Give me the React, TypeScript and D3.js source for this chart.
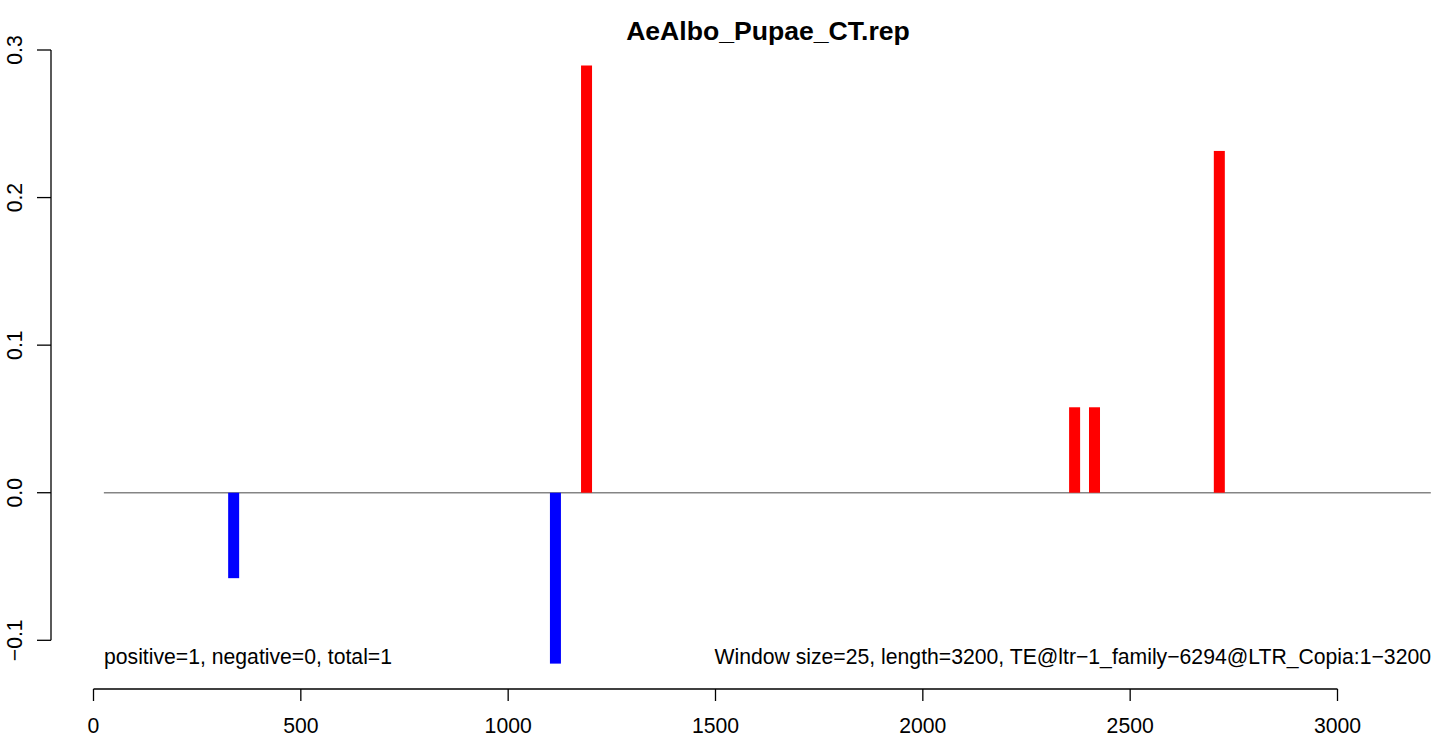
import React from "react";
import * as d3 from "d3";

const positions = [338, 1114, 1189, 2366, 2414, 2715];
const values = [-0.0579, -0.1158, 0.2895, 0.0579, 0.0579, 0.2316];
const xTicks = [0, 500, 1000, 1500, 2000, 2500, 3000];
const yTicks = [-0.1, 0, 0.1, 0.2, 0.3];
const zeroLineRange = [25, 3225];
const title = "AeAlbo_Pupae_CT.rep";
const leftNote = "positive=1, negative=0, total=1";
const rightNote = "Window size=25, length=3200, TE@ltr\u22121_family\u22126294@LTR_Copia:1\u22123200";

export default function App() {
  const W = 1439, H = 738;
  const x = d3.scaleLinear().domain([0, 3000]).range([93.5, 1337.5]);
  const y = d3.scaleLinear().domain([-0.1, 0.3]).range([640.3, 50]);
  const font = "'Liberation Sans', Arial, Helvetica, sans-serif";
  const fmtY = (v: number) => {
    const s = d3.format(".1f")(v);
    return s.replace("-", "\u2212");
  };
  const barW = 11;
  const xAxisY = 689;
  const yAxisX = 51;
  const fs = 21.2;
  return (
    <svg width={W} height={H} style={{ position: "absolute", left: 0, top: 0, background: "#fff" }} fontFamily={font}>
      <text x={768} y={40} textAnchor="middle" fontWeight="bold" fontSize={26.6}>{title}</text>
      {/* zero line */}
      <line x1={x(zeroLineRange[0])} x2={x(zeroLineRange[1])} y1={y(0)} y2={y(0)} stroke="#858585" strokeWidth={1.6} />
      {/* bars */}
      {positions.map((p, i) => {
        const v = values[i];
        const y0 = y(0), y1 = y(v);
        return (
          <rect key={i} x={x(p) - barW / 2} width={barW} y={Math.min(y0, y1)} height={Math.abs(y1 - y0)}
            fill={v >= 0 ? "#FF0000" : "#0000FF"} />
        );
      })}
      {/* y axis */}
      <line x1={yAxisX} x2={yAxisX} y1={y(0.3)} y2={y(-0.1)} stroke="#000" strokeWidth={1.3} />
      {yTicks.map((t) => (
        <g key={t}>
          <line x1={yAxisX - 14} x2={yAxisX} y1={y(t)} y2={y(t)} stroke="#000" strokeWidth={1.3} />
          <text transform={`translate(${22},${y(t)}) rotate(-90)`} textAnchor="middle" fontSize={fs}>{fmtY(t)}</text>
        </g>
      ))}
      {/* x axis */}
      <line x1={x(0)} x2={x(3000)} y1={xAxisY} y2={xAxisY} stroke="#000" strokeWidth={1.3} />
      {xTicks.map((t) => (
        <g key={t}>
          <line x1={x(t)} x2={x(t)} y1={xAxisY} y2={xAxisY + 12} stroke="#000" strokeWidth={1.3} />
          <text x={x(t)} y={733} textAnchor="middle" fontSize={fs}>{t}</text>
        </g>
      ))}
      <text x={104} y={664} fontSize={fs}>{leftNote}</text>
      <text x={1431} y={664} textAnchor="end" fontSize={fs}>{rightNote}</text>
    </svg>
  );
}
